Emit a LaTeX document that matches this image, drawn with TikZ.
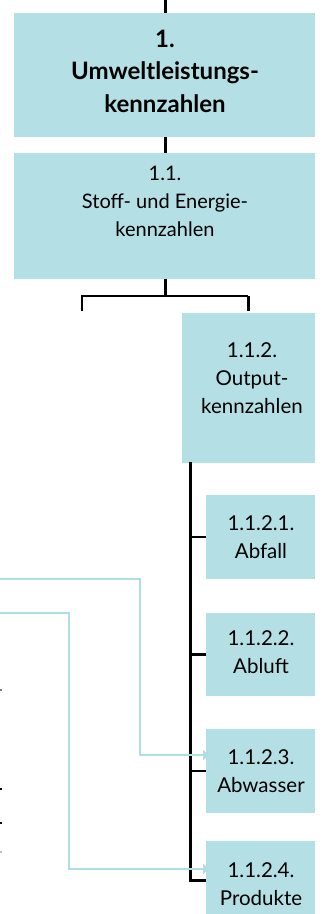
\documentclass[tikz,border=0pt]{standalone}
\usepackage{fontspec}
\setmainfont{Lato}
\usetikzlibrary{arrows.meta}
\definecolor{boxcyan}{RGB}{180,224,229}
\definecolor{linkcyan}{RGB}{176,222,228}
\begin{document}
\begin{tikzpicture}[x=1pt,y=-1pt,
  box/.style={fill=boxcyan, draw=none, inner sep=0pt, outer sep=0pt, anchor=north west},
  txt/.style={align=center, inner sep=0pt, anchor=base},
  bigtxt/.style={txt, font=\bfseries\fontsize{24}{32.5}\selectfont},
  midtxt/.style={txt, font=\fontsize{20}{28}\selectfont},
  smalltxt/.style={txt, font=\fontsize{20.5}{28}\selectfont},
  heavy/.style={line width=3pt, black},
  light/.style={line width=1.6pt, black},
  tick/.style={line width=2.4pt, black},
  link/.style={line width=1.6pt, linkcyan, -{Triangle[length=6pt,width=10pt]}},
]
\useasboundingbox (0,0) rectangle (322,914);

% boxes
\node[box, minimum width=301pt, minimum height=124pt] (b1) at (14,13) {};
\node[box, minimum width=301pt, minimum height=126pt] (b2) at (14,153) {};
\node[box, minimum width=133pt, minimum height=150pt] (b3) at (182,313) {};
\node[box, minimum width=109pt, minimum height=84pt] (b4) at (206,495) {};
\node[box, minimum width=109pt, minimum height=83pt] (b5) at (206,613) {};
\node[box, minimum width=109pt, minimum height=84pt] (b6) at (206,729) {};
\node[box, minimum width=109pt, minimum height=73pt] (b7) at (206,841) {};

% tree connectors
\coordinate (top) at (165,0);
\draw[heavy] (top) -- (top |- b1.north);
\draw[heavy] (b1.south -| top) -- (b2.north -| top);
\coordinate (j) at (165,296);
\coordinate (jl) at (82,296);
\coordinate (jr) at (248,296);
\coordinate (jld) at (82,311);
\coordinate (jrd) at (248,311);
\draw[heavy] (b2.south -| j) -- (j);
\draw[light] (jld) -- (jl) -- (jr);
\draw[heavy] (jr) -- (jrd);

% spine
\coordinate (s0) at (190,462);
\coordinate (s1) at (190,880);
\draw[heavy] (s0) -- (s1) -- (b7.west |- s1);
\draw[tick] (b4.west -| s0) -- (b4.west);
\draw[tick] (b5.west -| s0) -- (b5.west);
\draw[tick] (b6.west -| s0) -- (b6.west);

% light blue links
\coordinate (l1) at (0,579);
\coordinate (l1a) at (140,579);
\coordinate (l1b) at (140,755);
\coordinate (l2) at (0,613);
\coordinate (l2a) at (69,613);
\coordinate (l2b) at (69,869);
\draw[link] (l1) -- (l1a) -- (l1b) -- ([xshift=3pt]b6.west |- l1b);
\draw[link] (l2) -- (l2a) -- (l2b) -- ([xshift=3pt]b7.west |- l2b);

% cut-off marks at the left edge
\draw[line width=1.5pt, gray] (0,690) -- (2,690);
\draw[line width=1.5pt, black] (0,789) -- (2,789);
\draw[line width=1.5pt, black] (0,823) -- (2,823);
\draw[line width=1.5pt, black!25] (0,852) -- (2,852);

% texts (anchor base = baseline of the last line)
\node[bigtxt] (t1) at (165,112) {1.\\Umweltleistungs-\\kennzahlen};
\node[midtxt] (t2) at (165,236) {1.1.\\Stoff- und Energie-\\kennzahlen};
\node[smalltxt] (t3) at (252,413) {1.1.2.\\Output-\\kennzahlen};
\node[smalltxt] (t4) at (261,558) {1.1.2.1.\\Abfall};
\node[smalltxt] (t5) at (261,673) {1.1.2.2.\\Abluft};
\node[smalltxt] (t6) at (261,792) {1.1.2.3.\\Abwasser};
\node[smalltxt] (t7) at (261,905) {1.1.2.4.\\Produkte};
\end{tikzpicture}
\end{document}
